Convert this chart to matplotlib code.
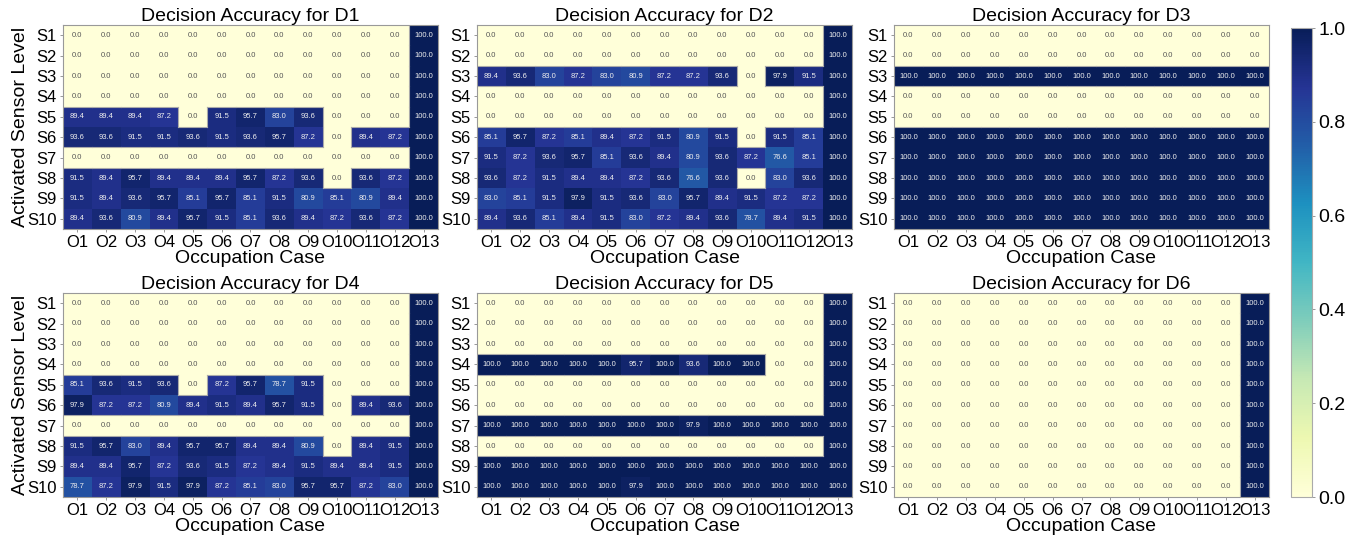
import numpy as np
import matplotlib
matplotlib.use("Agg")
import matplotlib.pyplot as plt

plt.rcParams['font.family'] = ['Liberation Sans', 'DejaVu Sans']

occupation_cases = [f"O{i}" for i in range(1, 14)]
sensor_levels = [f"S{i}" for i in range(1, 11)]
titles = [f"Decision Accuracy for D{i}" for i in range(1, 7)]

Z = [0.0] * 12
F = [100.0] * 13

d1 = [
    Z + [100.0], Z + [100.0], Z + [100.0], Z + [100.0],
    [89.4, 89.4, 89.4, 87.2, 0.0, 91.5, 95.7, 83.0, 93.6, 0.0, 0.0, 0.0, 100.0],
    [93.6, 93.6, 91.5, 91.5, 93.6, 91.5, 93.6, 95.7, 87.2, 0.0, 89.4, 87.2, 100.0],
    Z + [100.0],
    [91.5, 89.4, 95.7, 89.4, 89.4, 89.4, 95.7, 87.2, 93.6, 0.0, 93.6, 87.2, 100.0],
    [91.5, 89.4, 93.6, 95.7, 85.1, 95.7, 85.1, 91.5, 80.9, 85.1, 80.9, 89.4, 100.0],
    [89.4, 93.6, 80.9, 89.4, 95.7, 91.5, 85.1, 93.6, 89.4, 87.2, 93.6, 87.2, 100.0],
]

d2 = [
    Z + [100.0], Z + [100.0],
    [89.4, 93.6, 83.0, 87.2, 83.0, 80.9, 87.2, 87.2, 93.6, 0.0, 97.9, 91.5, 100.0],
    Z + [100.0], Z + [100.0],
    [85.1, 95.7, 87.2, 85.1, 89.4, 87.2, 91.5, 80.9, 91.5, 0.0, 91.5, 85.1, 100.0],
    [91.5, 87.2, 93.6, 95.7, 85.1, 93.6, 89.4, 80.9, 93.6, 87.2, 76.6, 85.1, 100.0],
    [93.6, 87.2, 91.5, 89.4, 89.4, 87.2, 93.6, 76.6, 93.6, 0.0, 83.0, 93.6, 100.0],
    [83.0, 85.1, 91.5, 97.9, 91.5, 93.6, 83.0, 95.7, 89.4, 91.5, 87.2, 87.2, 100.0],
    [89.4, 93.6, 85.1, 89.4, 91.5, 83.0, 87.2, 89.4, 93.6, 78.7, 89.4, 91.5, 100.0],
]

d3 = [
    Z + [0.0], Z + [0.0], F, Z + [0.0], Z + [0.0], F, F, F, F, F,
]

d4 = [
    Z + [100.0], Z + [100.0], Z + [100.0], Z + [100.0],
    [85.1, 93.6, 91.5, 93.6, 0.0, 87.2, 95.7, 78.7, 91.5, 0.0, 0.0, 0.0, 100.0],
    [97.9, 87.2, 87.2, 80.9, 89.4, 91.5, 89.4, 95.7, 91.5, 0.0, 89.4, 93.6, 100.0],
    Z + [100.0],
    [91.5, 95.7, 83.0, 89.4, 95.7, 95.7, 89.4, 89.4, 80.9, 0.0, 89.4, 91.5, 100.0],
    [89.4, 89.4, 95.7, 87.2, 93.6, 91.5, 87.2, 89.4, 91.5, 89.4, 89.4, 91.5, 100.0],
    [78.7, 87.2, 97.9, 91.5, 97.9, 87.2, 85.1, 83.0, 95.7, 95.7, 87.2, 83.0, 100.0],
]

d5 = [
    Z + [100.0], Z + [100.0], Z + [100.0],
    [100.0, 100.0, 100.0, 100.0, 100.0, 95.7, 100.0, 93.6, 100.0, 100.0, 0.0, 0.0, 100.0],
    Z + [100.0], Z + [100.0],
    [100.0, 100.0, 100.0, 100.0, 100.0, 100.0, 100.0, 97.9, 100.0, 100.0, 100.0, 100.0, 100.0],
    Z + [100.0],
    F,
    [100.0, 100.0, 100.0, 100.0, 100.0, 97.9, 100.0, 100.0, 100.0, 100.0, 100.0, 100.0, 100.0],
]

d6 = [Z + [100.0] for _ in range(10)]

datasets = [d1, d2, d3, d4, d5, d6]

W, H = 1354, 535
fig = plt.figure(figsize=(W / 100, H / 100), dpi=100)

lefts = [63, 477, 894]
tops = [25, 293]
aw, ah = 375, 204
cmap = plt.get_cmap('YlGnBu')

axes = []
for k, data in enumerate(datasets):
    r, c = divmod(k, 3)
    ax = fig.add_axes([lefts[c] / W, 1 - (tops[r] + ah) / H, aw / W, ah / H])
    axes.append(ax)
    arr = np.array(data) / 100.0
    nr, nc = arr.shape
    im = ax.pcolormesh(np.arange(nc + 1), np.arange(nr + 1), arr, cmap=cmap,
                       vmin=0, vmax=1, shading='flat')
    ax.set_xlim(0, nc)
    ax.set_ylim(nr, 0)
    for i in range(nr):
        for j in range(nc):
            v = arr[i, j]
            col = '#eeeeee' if v > 0.6 else '#555555'
            ax.text(j + 0.5, i + 0.5, f"{data[i][j]:.1f}", ha='center', va='center',
                    fontsize=5.5, color=col)
    # boundaries between zero and non-zero cells
    zero = arr == 0
    for i in range(nr):
        for j in range(nc):
            if j + 1 < nc and zero[i, j] != zero[i, j + 1]:
                ax.plot([j + 1, j + 1], [i, i + 1], color='#aaaaaa', lw=0.8)
            if i + 1 < nr and zero[i, j] != zero[i + 1, j]:
                ax.plot([j, j + 1], [i + 1, i + 1], color='#aaaaaa', lw=0.8)
    ax.set_xticks(np.arange(nc) + 0.5)
    ax.set_xticklabels(occupation_cases)
    ax.set_yticks(np.arange(nr) + 0.5)
    ax.set_yticklabels(sensor_levels)
    ax.tick_params(axis='both', labelsize=12, length=2.5, width=0.6,
                   color='#888888', pad=2)
    for s in ax.spines.values():
        s.set_color('#999999')
        s.set_linewidth(0.8)
    ax.set_title(titles[k], fontsize=14, pad=3)
    ax.set_xlabel("Occupation Case", fontsize=14, labelpad=0)
    if c == 0:
        ax.set_ylabel("Activated Sensor Level", fontsize=14, labelpad=-1)

cax = fig.add_axes([1291 / W, 1 - 497 / H, 21 / W, (497 - 28) / H])
sm = matplotlib.cm.ScalarMappable(norm=matplotlib.colors.Normalize(0, 1), cmap=cmap)
cb = fig.colorbar(sm, cax=cax)
cb.set_ticks([0.0, 0.2, 0.4, 0.6, 0.8, 1.0])
cb.ax.tick_params(labelsize=14, length=2.5, width=0.6, color='#888888', pad=2)
cb.outline.set_edgecolor('#aaaaaa')
cb.outline.set_linewidth(0.8)

fig.savefig("out.png", dpi=100)
